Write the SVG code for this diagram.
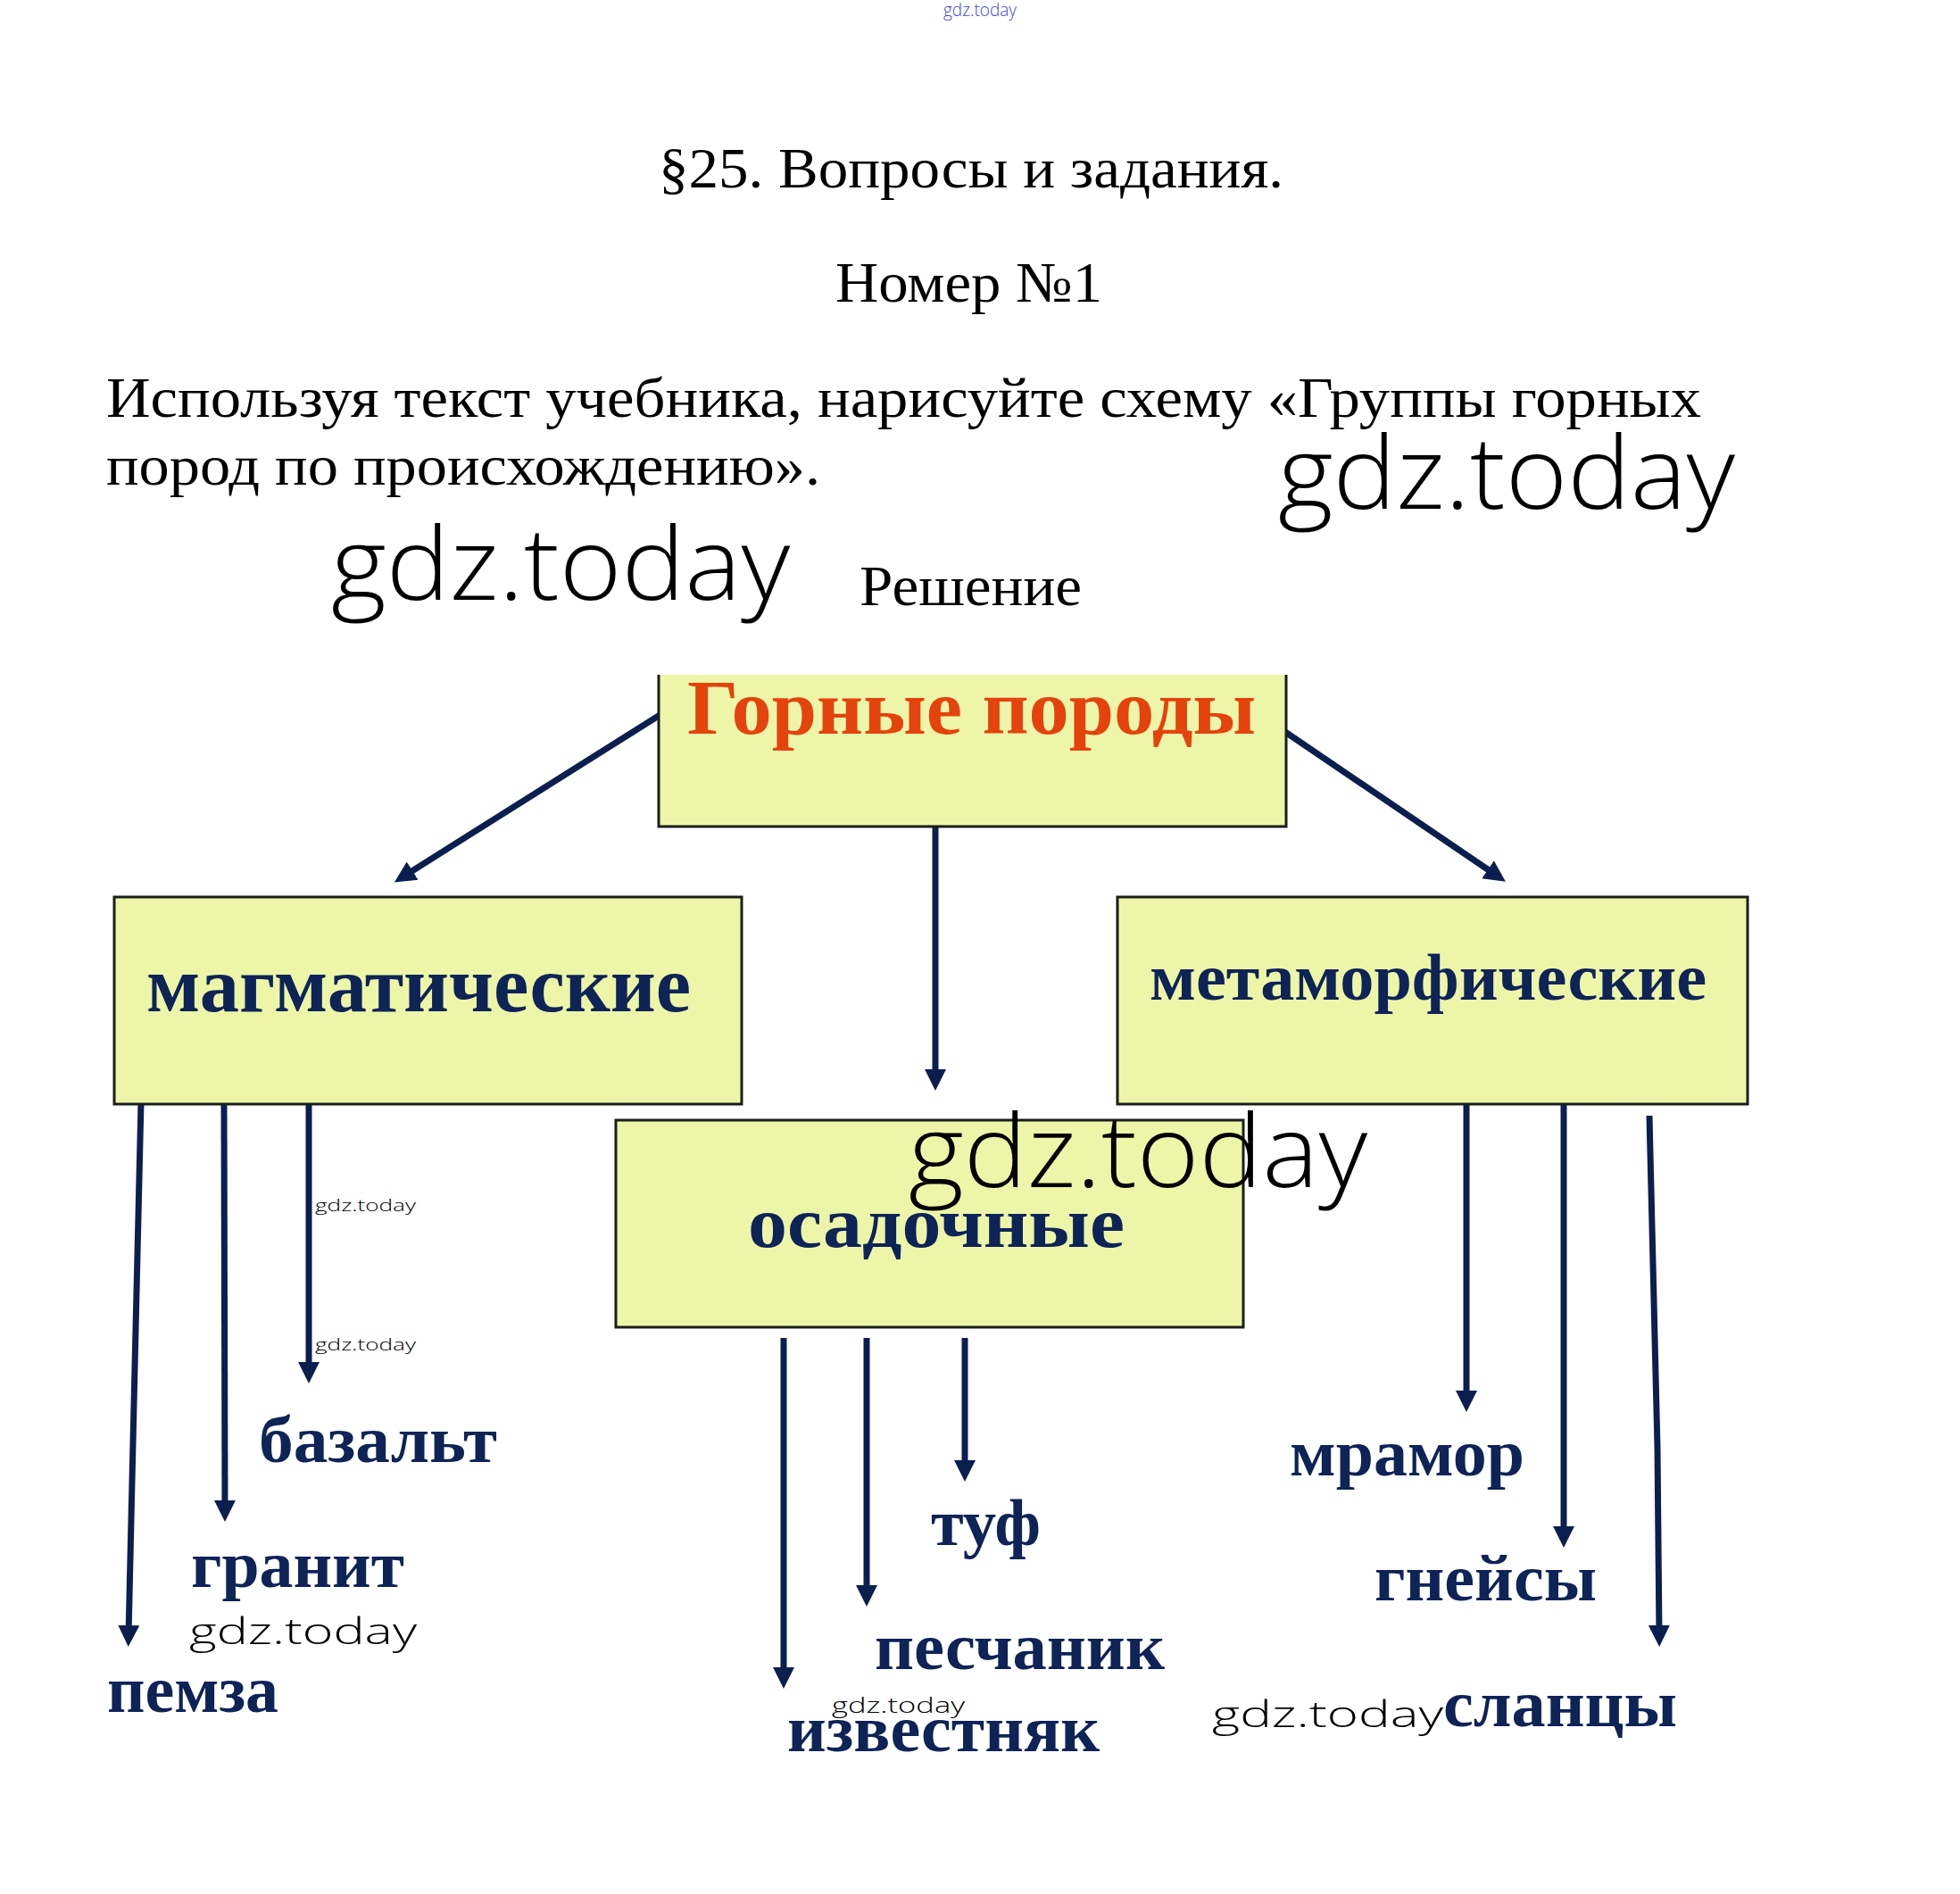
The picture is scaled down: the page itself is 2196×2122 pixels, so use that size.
<svg xmlns="http://www.w3.org/2000/svg" width="2196" height="2122" viewBox="0 0 2196 2122">
<style>
.page{font-family:"Liberation Serif","Times New Roman",serif;fill:#000;font-size:64px}
.box{fill:#EDF6A8;stroke:#1a1f1a;stroke-width:3}
.boxfill{fill:#EDF6A8}
.edge{fill:none;stroke:#1a1f1a;stroke-width:3}
.cat{font-family:"Liberation Serif","Times New Roman",serif;font-weight:bold;fill:#0E2356}
.leaf{font-family:"Liberation Serif","Times New Roman",serif;font-weight:bold;fill:#0E2356;font-size:74px}
.wm{font-family:"Open Sans","Liberation Sans",sans-serif;font-weight:300;fill:#000}
.conn{stroke:#0B1F4F;stroke-width:7;fill:none}
</style>
<defs>
<marker id="ah" markerUnits="userSpaceOnUse" markerWidth="26" markerHeight="26" refX="12" refY="12" orient="auto" viewBox="0 0 26 24">
<path d="M0,0 L24,12 L0,24 z" fill="#0B1F4F"/>
</marker>
</defs>
<rect x="0" y="0" width="2196" height="2122" fill="#fff"/>

<g id="header">
<text x="1057" y="18" class="wm" font-size="20" fill="#4444dd" style="fill:#4444dd" textLength="82" lengthAdjust="spacingAndGlyphs">gdz.today</text>
<text x="738" y="210" class="page" textLength="700" lengthAdjust="spacingAndGlyphs">§25. Вопросы и задания.</text>
<text x="936" y="338" class="page" textLength="299" lengthAdjust="spacingAndGlyphs">Номер №1</text>
<text x="119" y="467" class="page" textLength="1787" lengthAdjust="spacingAndGlyphs">Используя текст учебника, нарисуйте схему «Группы горных</text>
<text x="119" y="543" class="page" textLength="800" lengthAdjust="spacingAndGlyphs">пород по происхождению».</text>
<text x="1432" y="570" class="wm" font-size="112" textLength="512" lengthAdjust="spacingAndGlyphs">gdz.today</text>
<text x="371" y="672" class="wm" font-size="112" textLength="514" lengthAdjust="spacingAndGlyphs">gdz.today</text>
<text x="963" y="678" class="page" font-size="64" textLength="249" lengthAdjust="spacingAndGlyphs">Решение</text>
</g>

<g id="connectors">
<line class="conn" x1="741" y1="800" x2="452" y2="982" marker-end="url(#ah)"/>
<line class="conn" x1="1437" y1="818" x2="1677" y2="981" marker-end="url(#ah)"/>
<line class="conn" x1="1048" y1="924" x2="1048" y2="1210" marker-end="url(#ah)"/>
<polyline class="conn" points="158,1235 157,1277 155,1362 153,1447 151,1532 149,1617 147,1702 144,1833" marker-end="url(#ah)"/>
<line class="conn" x1="251" y1="1233" x2="252" y2="1693" marker-end="url(#ah)"/>
<line class="conn" x1="346" y1="1233" x2="346" y2="1538" marker-end="url(#ah)"/>
<line class="conn" x1="878" y1="1499" x2="878" y2="1880" marker-end="url(#ah)"/>
<line class="conn" x1="971" y1="1499" x2="971" y2="1788" marker-end="url(#ah)"/>
<line class="conn" x1="1081" y1="1499" x2="1081" y2="1648" marker-end="url(#ah)"/>
<line class="conn" x1="1643" y1="1233" x2="1643" y2="1570" marker-end="url(#ah)"/>
<line class="conn" x1="1752" y1="1233" x2="1752" y2="1722" marker-end="url(#ah)"/>
<polyline class="conn" points="1848,1250 1849,1293 1851,1375 1853,1457 1855,1540 1857,1622 1859,1833" marker-end="url(#ah)"/>
</g>

<g id="node-root">
<rect class="boxfill" x="738" y="756" width="703" height="170"/>
<path class="edge" d="M738,756 V926 H1441 V756"/>
<text x="770" y="822" class="cat" font-size="86" style="fill:#E4430E" textLength="637" lengthAdjust="spacingAndGlyphs">Горные породы</text>
</g>

<g id="node-magmatic">
<rect class="box" x="128" y="1005" width="703" height="232"/>
<text x="164" y="1133" class="cat" font-size="88" textLength="610" lengthAdjust="spacingAndGlyphs">магматические</text>
</g>

<g id="node-metamorphic">
<rect class="box" x="1252" y="1005" width="706" height="232"/>
<text x="1288" y="1120" class="cat" font-size="74" textLength="624" lengthAdjust="spacingAndGlyphs">метаморфические</text>
</g>

<g id="node-sedimentary">
<rect class="box" x="690" y="1255" width="703" height="232"/>
<text x="838" y="1397" class="cat" font-size="80" textLength="422" lengthAdjust="spacingAndGlyphs">осадочные</text>
</g>

<g id="watermarks">
<text x="1018" y="1330" class="wm" font-size="112" textLength="514" lengthAdjust="spacingAndGlyphs">gdz.today</text>
<text x="353" y="1357" class="wm" font-size="19" textLength="113" lengthAdjust="spacingAndGlyphs">gdz.today</text>
<text x="353" y="1513" class="wm" font-size="19" textLength="113" lengthAdjust="spacingAndGlyphs">gdz.today</text>
<text x="212" y="1842" class="wm" font-size="40" textLength="255" lengthAdjust="spacingAndGlyphs">gdz.today</text>
<text x="932" y="1919" class="wm" font-size="24" textLength="149" lengthAdjust="spacingAndGlyphs">gdz.today</text>
<text x="1358" y="1935" class="wm" font-size="40" textLength="259" lengthAdjust="spacingAndGlyphs">gdz.today</text>
</g>

<g id="node-basalt"><text x="290" y="1638" class="leaf" textLength="267" lengthAdjust="spacingAndGlyphs">базальт</text></g>
<g id="node-granite"><text x="214" y="1778" class="leaf" textLength="239" lengthAdjust="spacingAndGlyphs">гранит</text></g>
<g id="node-pumice"><text x="120" y="1918" class="leaf" textLength="192" lengthAdjust="spacingAndGlyphs">пемза</text></g>
<g id="node-tuff"><text x="1043" y="1731" class="leaf" textLength="123" lengthAdjust="spacingAndGlyphs">туф</text></g>
<g id="node-sandstone"><text x="980" y="1870" class="leaf" textLength="325" lengthAdjust="spacingAndGlyphs">песчаник</text></g>
<g id="node-limestone"><text x="882" y="1962" class="leaf" textLength="350" lengthAdjust="spacingAndGlyphs">известняк</text></g>
<g id="node-marble"><text x="1445" y="1653" class="leaf" textLength="263" lengthAdjust="spacingAndGlyphs">мрамор</text></g>
<g id="node-gneiss"><text x="1540" y="1793" class="leaf" textLength="249" lengthAdjust="spacingAndGlyphs">гнейсы</text></g>
<g id="node-schist"><text x="1617" y="1934" class="leaf" textLength="262" lengthAdjust="spacingAndGlyphs">сланцы</text></g>
</svg>
